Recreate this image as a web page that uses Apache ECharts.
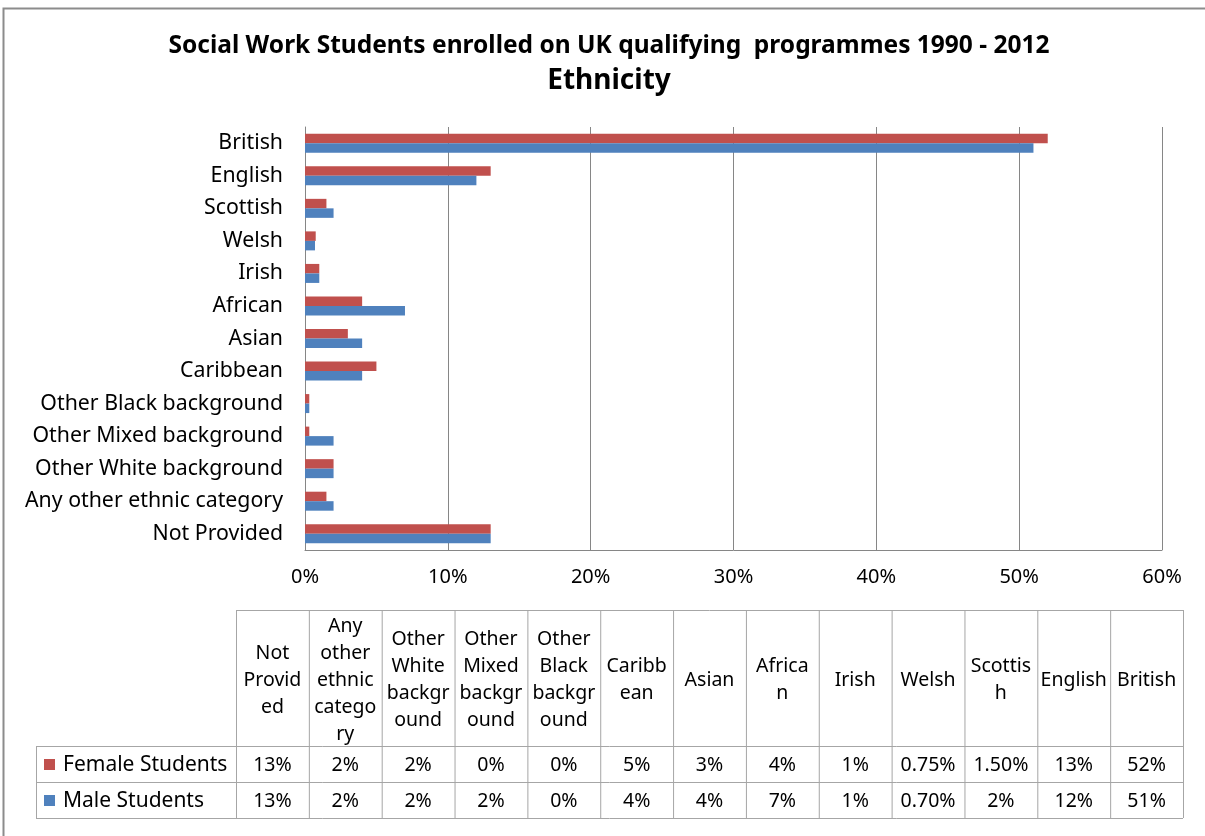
<!DOCTYPE html>
<html><head><meta charset="utf-8">
<script src="https://cdn.jsdelivr.net/npm/echarts@6/dist/echarts.min.js"></script>
<style>html,body{margin:0;padding:0;background:#fff}#c{width:1205px;height:836px}</style>
</head><body><div id="c"></div>
<script>
const categories = ['British','English','Scottish','Welsh','Irish','African','Asian','Caribbean','Other Black background','Other Mixed background','Other White background','Any other ethnic category','Not Provided'];
const female = [52, 13, 1.5, 0.75, 1, 4, 3, 5, 0.3, 0.3, 2, 1.5, 13];
const male = [51, 12, 2, 0.7, 1, 7, 4, 4, 0.3, 2, 2, 2, 13];
const seriesNames = ['Female Students', 'Male Students'];
const colors = ['#C0504D', '#4F81BD'];
const tableHeaders = ['Not\nProvid\ned','Any\nother\nethnic\ncatego\nry','Other\nWhite\nbackgr\nound','Other\nMixed\nbackgr\nound','Other\nBlack\nbackgr\nound','Caribb\nean','Asian','Africa\nn','Irish','Welsh','Scottis\nh','English','British'];
const femaleTable = ['13%','2%','2%','0%','0%','5%','3%','4%','1%','0.75%','1.50%','13%','52%'];
const maleTable = ['13%','2%','2%','2%','0%','4%','4%','7%','1%','0.70%','2%','12%','51%'];
const titleLines = ['Social Work Students enrolled on UK qualifying  programmes 1990 - 2012', 'Ethnicity'];

const FONT = 'Noto Sans';
const chart = echarts.init(document.getElementById('c'));

// table layout
const tL = 36, tC = 236, tR = 1183, tTop = 610, tH = 746, r1 = 782, r2 = 818;
const colW = (tR - tC) / tableHeaders.length;
const lineColor = '#A6A6A6';
const TF = '19.5px "' + FONT + '"';
const g = [];
g.push({type:'rect', shape:{x:3.5, y:8.5, width:1215, height:840}, style:{fill:'none', stroke:'#8C8C8C', lineWidth:2}, silent:true});
function hl(x1,x2,y){g.push({type:'line', shape:{x1:x1,y1:y+0.5,x2:x2,y2:y+0.5}, style:{stroke:lineColor, lineWidth:1}});}
function vl(x,y1,y2){g.push({type:'line', shape:{x1:x+0.5,y1:y1,x2:x+0.5,y2:y2}, style:{stroke:lineColor, lineWidth:1}});}
hl(tC, tR, tTop); hl(tL, tR, tH); hl(tL, tR, r1); hl(tL, tR, r2);
vl(tL, tH, r2);
for (let i = 0; i <= tableHeaders.length; i++) vl(tC + i*colW, tTop, r2);
tableHeaders.forEach((h, i) => {
  const cx = tC + (i+0.5)*colW;
  g.push({type:'text', style:{text:h, x:cx, y:(tTop+tH)/2+2, textAlign:'center', textVerticalAlign:'middle', font:TF, lineHeight:27, fill:'#000'}});
  g.push({type:'text', style:{text:femaleTable[i], x:cx, y:(tH+r1)/2+1, textAlign:'center', textVerticalAlign:'middle', font:TF, fill:'#000'}});
  g.push({type:'text', style:{text:maleTable[i], x:cx, y:(r1+r2)/2+1, textAlign:'center', textVerticalAlign:'middle', font:TF, fill:'#000'}});
});
[[tH, r1], [r1, r2]].forEach((r, k) => {
  const cy = (r[0]+r[1])/2;
  g.push({type:'rect', shape:{x:44, y:cy-5, width:11, height:11}, style:{fill:colors[k]}});
  g.push({type:'text', style:{text:seriesNames[k], x:63, y:cy+1, textAlign:'left', textVerticalAlign:'middle', font:'21px "'+FONT+'"', fill:'#000'}});
});
g.push({type:'text', style:{text:titleLines[0], x:609, y:46, textAlign:'center', textVerticalAlign:'middle', font:'bold 24.5px "'+FONT+'"', fill:'#000'}});
g.push({type:'text', style:{text:titleLines[1], x:609, y:81, textAlign:'center', textVerticalAlign:'middle', font:'bold 28px "'+FONT+'"', fill:'#000'}});

chart.setOption({
  animation: false,
  grid: {left: 305, right: 43, top: 127, bottom: 286, containLabel: false},
  xAxis: {
    type: 'value', min: 0, max: 60, interval: 10, position: 'bottom',
    axisLabel: {formatter: '{value}%', fontSize: 20, color: '#000', fontFamily: FONT, margin: 17},
    axisLine: {show: true, lineStyle: {color: '#868686'}},
    axisTick: {show: false},
    splitLine: {show: true, lineStyle: {color: '#868686', width: 1}}
  },
  yAxis: {
    type: 'category', data: categories, inverse: true,
    axisLabel: {fontSize: 21.3, color: '#000', fontFamily: FONT, margin: 22},
    axisLine: {show: true, lineStyle: {color: '#868686'}},
    axisTick: {show: false}
  },
  series: [
    {name: seriesNames[0], type: 'bar', data: female, barWidth: 9.5, barGap: '0%', itemStyle: {color: colors[0]}},
    {name: seriesNames[1], type: 'bar', data: male, barWidth: 9.5, barGap: '0%', itemStyle: {color: colors[1]}}
  ],
  graphic: g
});
</script></body></html>
